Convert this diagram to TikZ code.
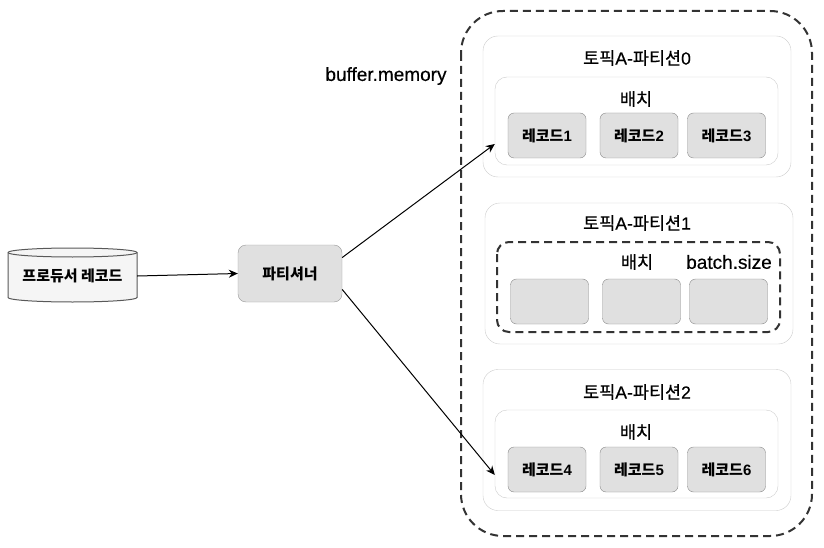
\documentclass[tikz,border=0pt]{standalone}
\usepackage{fontspec}
\setmainfont{Liberation Sans}
\newfontfamily\kr{Noto Sans CJK KR}
\newfontfamily\krm{Noto Sans CJK KR}[FakeBold=0.6]
\newfontfamily\latm{Liberation Sans}[FakeBold=0.4]
\usetikzlibrary{arrows.meta,calc}
\definecolor{recfill}{HTML}{E0E0E0}
\definecolor{recdraw}{HTML}{8A8A8A}
\definecolor{lightdraw}{HTML}{CCCCCC}
\definecolor{cylfill}{HTML}{F5F5F5}
\definecolor{dashdraw}{HTML}{333333}
\tikzset{
  recbox/.style={draw=recdraw, fill=recfill, rounded corners=6pt, minimum width=78pt, minimum height=45pt, inner sep=0pt, font=\fontsize{15}{17}\selectfont\bfseries},
  partbox/.style={draw=lightdraw, fill=white, rounded corners=15pt, minimum width=308pt, minimum height=141pt, inner sep=0pt},
  batchbox/.style={draw=lightdraw, fill=white, rounded corners=12pt, minimum width=283pt, minimum height=88pt, inner sep=0pt},
  dashbox/.style={draw=dashdraw, line width=2pt, dash pattern=on 8pt off 5pt},
  title/.style={font=\latm\fontsize{17.5}{20}\selectfont, inner sep=0pt},
  krtitle/.style={font=\krm\fontsize{17.5}{20}\selectfont, inner sep=0pt},
  lattitle/.style={font=\latm\fontsize{19}{22}\selectfont, inner sep=0pt},
  conn/.style={draw=black, line width=1pt, -{Stealth[length=9pt,width=8pt]}},
}
\begin{document}
\begin{tikzpicture}[x=1pt,y=-1pt]
\useasboundingbox (0,0) rectangle (824,548);
% outer buffer.memory
\draw[dashbox, rounded corners=42pt] (461,11) rectangle (812,536);
\node[lattitle] (bm) at (386,76) {buffer.memory};

% producer cylinder
\draw[draw=black!65, fill=cylfill, line width=1pt] (8,252.5) -- (8,297.5) arc[start angle=180,end angle=0,x radius=64.5,y radius=4.5] -- (137,252.5) arc[start angle=0,end angle=-180,x radius=64.5,y radius=4.5] -- cycle;
\draw[draw=black!65, line width=1pt] (8,252.5) arc[start angle=180,end angle=0,x radius=64.5,y radius=4.5];
\node[minimum width=129pt, minimum height=54pt, inner sep=0pt, font=\kr\fontsize{15}{17}\selectfont\bfseries] (prod) at (72.5,276) {프로듀서 레코드};

% partitioner
\node[draw=black!40, fill=recfill, rounded corners=8pt, minimum width=104pt, minimum height=57pt, inner sep=0pt, font=\kr\fontsize{15}{17}\selectfont\bfseries] (part) at (290,273.5) {파티셔너};

% partition 0
\node[partbox] (p0) at (637,106.5) {};
\node[title] (p0t) at (637,58) {{\krm 토픽}A-{\krm 파티션}0};
\node[batchbox] (b0) at (636.5,121) {};
\node[krtitle] (b0t) at (636,99) {배치};
\node[recbox] (r1) at (547,135.5) {{\kr 레코드}1};
\node[recbox] (r2) at (639,135.5) {{\kr 레코드}2};
\node[recbox] (r3) at (726.5,135.5) {{\kr 레코드}3};

% partition 1
\node[partbox] (p1) at (639,273.5) {};
\node[title] (p1t) at (637,223) {{\krm 토픽}A-{\krm 파티션}1};
\draw[dashbox, rounded corners=12pt] (497,242) rectangle (780,332);
\node[krtitle] (b1t) at (637,262) {배치};
\node[lattitle] (bs) at (729,262) {batch.size};
\node[recbox] (e1) at (549.5,301.5) {};
\node[recbox] (e2) at (641.5,301.5) {};
\node[recbox] (e3) at (728.5,301.5) {};

% partition 2
\node[partbox] (p2) at (637,440) {};
\node[title] (p2t) at (637,392) {{\krm 토픽}A-{\krm 파티션}2};
\node[batchbox] (b2) at (636.5,454) {};
\node[krtitle] (b2t) at (636,432) {배치};
\node[recbox] (r4) at (547,469.5) {{\kr 레코드}4};
\node[recbox] (r5) at (639,469.5) {{\kr 레코드}5};
\node[recbox] (r6) at (726.5,469.5) {{\kr 레코드}6};

% connectors
\draw[conn] (prod.east) -- (part.west);
\draw[conn] (part.17) -- ($(b0.west)+(0,23)$);
\draw[conn] (part.-17) -- ($(b2.west)+(0,21)$);
\end{tikzpicture}
\end{document}
